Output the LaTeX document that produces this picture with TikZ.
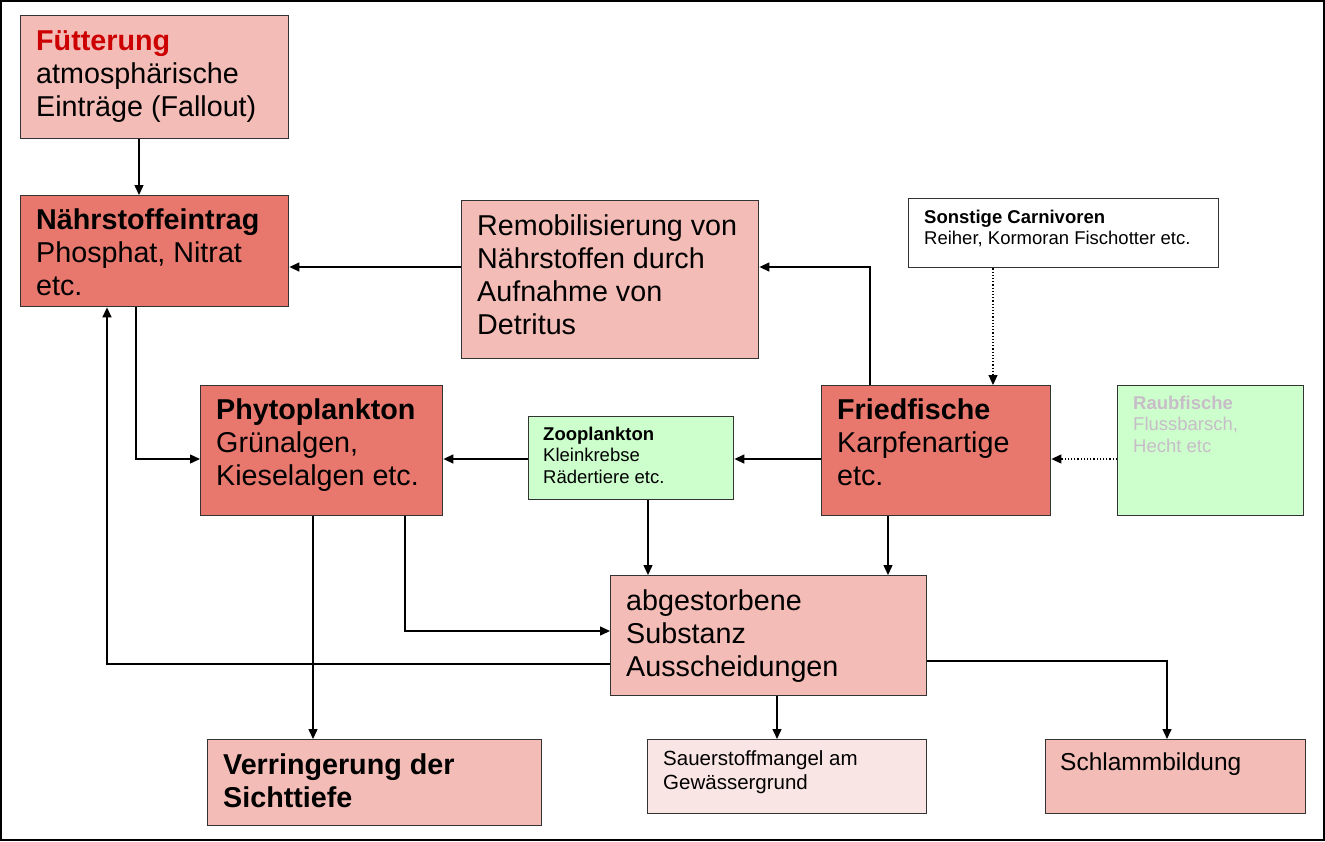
\documentclass[tikz,border=0pt]{standalone}
\usepackage{fontspec}
\setmainfont{Liberation Sans}
\usetikzlibrary{arrows.meta,calc}
\definecolor{lpink}{RGB}{244,188,182}
\definecolor{dpink}{RGB}{232,120,110}
\definecolor{lgreen}{RGB}{204,255,204}
\definecolor{ppink}{RGB}{249,229,227}
\definecolor{futred}{RGB}{204,0,0}
\definecolor{raubgray}{RGB}{200,188,200}
\newcommand\fbig{\fontsize{28.7}{33}\selectfont}
\newcommand\fsml{\fontsize{18.5}{21.5}\selectfont}
\newcommand\fsau{\fontsize{20.5}{24}\selectfont}
\newcommand\fsch{\fontsize{24.5}{28}\selectfont}
\newcommand\fstrut{\rule{0pt}{0.9em}}
\tikzset{
  box/.style={draw=black!80, line width=1.4pt, anchor=north west, inner sep=0pt},
  txt/.style={anchor=north west, inner xsep=16pt, inner ysep=0pt, align=left, text=black},
  arr/.style={line width=1.4pt, -{Triangle[length=10pt,width=9pt]}},
  darr/.style={line width=1.2pt, dotted, -{Triangle[length=10pt,width=9pt]}},
}
\begin{document}
\begin{tikzpicture}[x=1pt,y=-1pt]
\useasboundingbox (0,0) rectangle (1325,841);
\draw[line width=2pt] (1,1) rectangle (1324,840);

% boxes
\node[box, fill=lpink, minimum width=268pt, minimum height=123pt] (fut) at (20,15) {};
\node[box, fill=dpink, minimum width=268pt, minimum height=111pt] (naehr) at (20,195) {};
\node[box, fill=lpink, minimum width=297pt, minimum height=158pt] (remob) at (461,200) {};
\node[box, fill=white, minimum width=310pt, minimum height=69pt] (carn) at (908,198) {};
\node[box, fill=dpink, minimum width=242pt, minimum height=130pt] (phyto) at (200,385) {};
\node[box, fill=lgreen, minimum width=205pt, minimum height=83pt] (zoo) at (528,416) {};
\node[box, fill=dpink, minimum width=229pt, minimum height=130pt] (fried) at (821,385) {};
\node[box, fill=lgreen, minimum width=186pt, minimum height=130pt] (raub) at (1117,385) {};
\node[box, fill=lpink, minimum width=316pt, minimum height=120pt] (abg) at (610,575) {};
\node[box, fill=lpink, minimum width=334pt, minimum height=86pt] (verr) at (207,739) {};
\node[box, fill=ppink, minimum width=279pt, minimum height=74pt] (sauer) at (647,739) {};
\node[box, fill=lpink, minimum width=260pt, minimum height=74pt] (schl) at (1045,739) {};

% texts
\node[txt, font=\fbig, yshift=-9.2pt] (futT) at (fut.north west) {\fstrut\textbf{\color{futred}Fütterung}\\atmosphärische\\Einträge (Fallout)};
\node[txt, font=\fbig, yshift=-8.5pt] (naehrT) at (naehr.north west) {\fstrut\textbf{Nährstoffeintrag}\\Phosphat, Nitrat\\etc.};
\node[txt, font=\fbig, yshift=-9.2pt] (remobT) at (remob.north west) {\fstrut Remobilisierung von\\Nährstoffen durch\\Aufnahme von\\Detritus};
\node[txt, font=\fsml, yshift=-8.3pt] (carnT) at (carn.north west) {\fstrut\textbf{Sonstige Carnivoren}\\Reiher, Kormoran Fischotter etc.};
\node[txt, font=\fbig, yshift=-8.5pt] (phytoT) at (phyto.north west) {\fstrut\textbf{Phytoplankton}\\Grünalgen,\\Kieselalgen etc.};
\node[txt, font=\fsml, yshift=-7.6pt, inner xsep=15pt] (zooT) at (zoo.north west) {\fstrut\textbf{Zooplankton}\\Kleinkrebse\\Rädertiere etc.};
\node[txt, font=\fbig, yshift=-8.5pt] (friedT) at (fried.north west) {\fstrut\textbf{Friedfische}\\Karpfenartige\\etc.};
\node[txt, font=\fsml, yshift=-7.6pt, text=raubgray] (raubT) at (raub.north west) {\fstrut\textbf{Raubfische}\\Flussbarsch,\\Hecht etc};
\node[txt, font=\fbig, yshift=-9.2pt] (abgT) at (abg.north west) {\fstrut abgestorbene\\Substanz\\Ausscheidungen};
\node[txt, font=\fbig, yshift=-9.2pt] (verrT) at (verr.north west) {\fstrut\textbf{Verringerung der}\\\textbf{Sichttiefe}};
\node[txt, font=\fsau, yshift=-7.5pt] (sauerT) at (sauer.north west) {\fstrut Sauerstoffmangel am\\Gewässergrund};
\node[txt, font=\fsch, yshift=-9pt, inner xsep=15pt] (schlT) at (schl.north west) {\fstrut Schlammbildung};

% routing levels
\coordinate (y267) at (0,267);
\coordinate (y459) at (0,459);
\coordinate (y631) at (0,631);
\coordinate (y664) at (0,664);
\coordinate (y661) at (0,661);
\coordinate (x139) at (139,0);
\coordinate (x136) at (136,0);
\coordinate (x107) at (107,0);
\coordinate (x870) at (870,0);
\coordinate (x993) at (993,0);
\coordinate (x648) at (648,0);
\coordinate (x888) at (888,0);
\coordinate (x405) at (405,0);
\coordinate (x313) at (313,0);
\coordinate (x777) at (777,0);
\coordinate (x1167) at (1167,0);

% connectors
\draw[arr] (fut.south -| x139) -- (naehr.north -| x139);
\draw[arr] (remob.west |- y267) -- (naehr.east |- y267);
\draw[arr] (fried.north -| x870) |- (remob.east |- y267);
\draw[arr] (naehr.south -| x136) |- (phyto.west |- y459);
\draw[arr] (zoo.west |- y459) -- (phyto.east |- y459);
\draw[arr] (fried.west |- y459) -- (zoo.east |- y459);
\draw[darr] (raub.west |- y459) -- (fried.east |- y459);
\draw[darr] (carn.south -| x993) -- (fried.north -| x993);
\draw[arr] (zoo.south -| x648) -- (abg.north -| x648);
\draw[arr] (fried.south -| x888) -- (abg.north -| x888);
\draw[arr] (phyto.south -| x405) |- (abg.west |- y631);
\draw[arr] (phyto.south -| x313) -- (verr.north -| x313);
\draw[arr] (abg.west |- y664) -| (naehr.south -| x107);
\draw[arr] (abg.south -| x777) -- (sauer.north -| x777);
\draw[arr] (abg.east |- y661) -| (schl.north -| x1167);
\end{tikzpicture}
\end{document}
